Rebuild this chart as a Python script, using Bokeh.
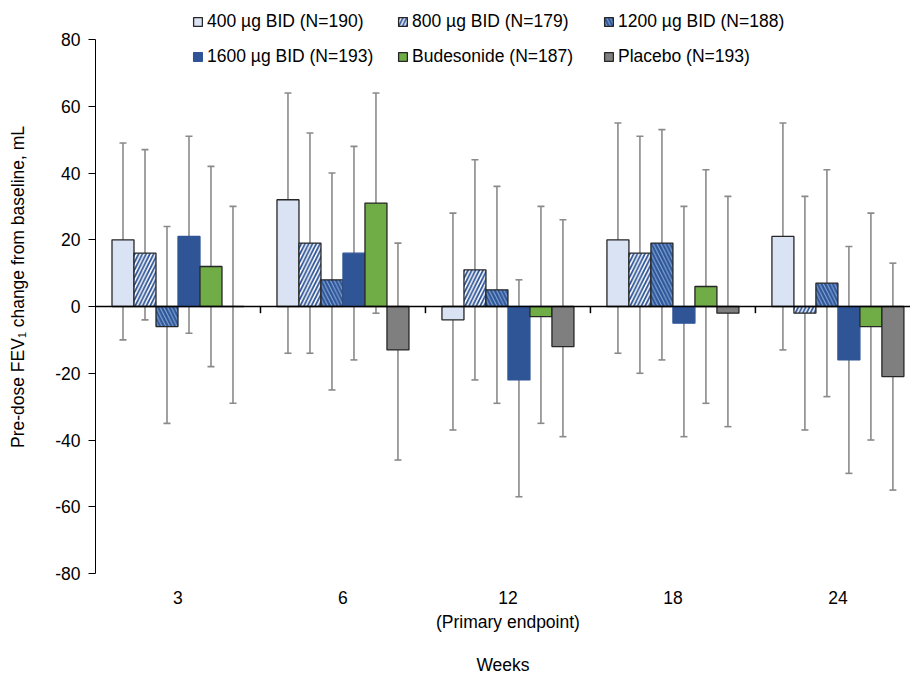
from bokeh.plotting import figure
from bokeh.models import (Range1d, FixedTicker, Span, Legend, LegendItem, Whisker,
                          ColumnDataSource, TeeHead)
from bokeh.embed import file_html
from bokeh.resources import INLINE

# ---------------- data ----------------
weeks = ["3", "6", "12\n(Primary endpoint)", "18", "24"]

series_names = ["400 µg BID (N=190)", "800 µg BID (N=179)", "1200 µg BID (N=188)",
                "1600 µg BID (N=193)", "Budesonide (N=187)", "Placebo (N=193)"]

mean_400 = [20, 32, -4, 20, 21]
lo_400 = [-10, -14, -37, -14, -13]
hi_400 = [49, 64, 28, 55, 55]

mean_800 = [16, 19, 11, 16, -2]
lo_800 = [-4, -14, -22, -20, -37]
hi_800 = [47, 52, 44, 51, 33]

mean_1200 = [-6, 8, 5, 19, 7]
lo_1200 = [-35, -25, -29, -16, -27]
hi_1200 = [24, 40, 36, 53, 41]

mean_1600 = [21, 16, -22, -5, -16]
lo_1600 = [-8, -16, -57, -39, -50]
hi_1600 = [51, 48, 8, 30, 18]

mean_bud = [12, 31, -3, 6, -6]
lo_bud = [-18, -2, -35, -29, -40]
hi_bud = [42, 64, 30, 41, 28]

mean_pbo = [0, -13, -12, -2, -21]
lo_pbo = [-29, -46, -39, -36, -55]
hi_pbo = [30, 19, 26, 33, 13]

y_ticks = [-80, -60, -40, -20, 0, 20, 40, 60, 80]

means = [mean_400, mean_800, mean_1200, mean_1600, mean_bud, mean_pbo]
lows = [lo_400, lo_800, lo_1200, lo_1600, lo_bud, lo_pbo]
highs = [hi_400, hi_800, hi_1200, hi_1600, hi_bud, hi_pbo]

# ---------------- styles ----------------
FONT = "Liberation Sans"
FS = "17.5px"
styles = [
    dict(fill_color="#dae3f3", line_color="#262626"),
    dict(fill_color="#ffffff", line_color="#262626", hatch_pattern="/",
         hatch_color="#2f5597", hatch_scale=7.5, hatch_weight=1.8),
    dict(fill_color="#2f5597", line_color="#262626", hatch_pattern="\\",
         hatch_color="#8fb3e0", hatch_scale=7.5, hatch_weight=1.0),
    dict(fill_color="#2f5597", line_color="#2f5597"),
    dict(fill_color="#70ad47", line_color="#262626"),
    dict(fill_color="#7f7f7f", line_color="#262626"),
]

n_groups = len(weeks)
n_series = len(series_names)
group_w = 0.8
bar_w = group_w / n_series

# frame extends above the top tick so the legend sits inside it
y_top = 91.7
x_end = 4.94

p = figure(width=910, height=677, output_backend="svg", toolbar_location=None,
           x_range=Range1d(0, x_end), y_range=Range1d(y_ticks[0], y_top),
           min_border_left=95, min_border_right=0, min_border_top=0,
           min_border_bottom=104)
p.outline_line_color = None
p.grid.visible = False

renderers = []
for i in range(n_series):
    xs = [g + 0.5 + (i - (n_series - 1) / 2) * bar_w for g in range(n_groups)]
    src = ColumnDataSource(dict(x=xs, top=means[i], lo=lows[i], hi=highs[i]))
    r = p.vbar(x="x", top="top", bottom=0, width=bar_w, source=src,
               line_width=1.3, **styles[i])
    renderers.append(r)
    w = Whisker(base="x", upper="hi", lower="lo", source=src, dimension="height",
                line_color="#8a8a8a", line_width=1.6,
                upper_head=TeeHead(size=7, line_color="#8a8a8a", line_width=1.6),
                lower_head=TeeHead(size=7, line_color="#8a8a8a", line_width=1.6))
    p.add_layout(w)

# zero line and category separators
p.add_layout(Span(location=0, dimension="width", line_color="black", line_width=1.5))
bounds = list(range(1, n_groups))
p.segment(x0=bounds, x1=bounds, y0=[0] * len(bounds), y1=[-2] * len(bounds),
          line_color="black", line_width=1.5)

# axes
p.yaxis.bounds = (y_ticks[0], y_ticks[-1])
p.yaxis.ticker = FixedTicker(ticks=y_ticks)
p.yaxis.major_label_overrides = {t: str(t) for t in y_ticks}
p.yaxis.major_tick_out = 7
p.yaxis.major_tick_in = 0
p.yaxis.minor_tick_line_color = None
p.yaxis.axis_line_color = "black"
p.yaxis.major_tick_line_color = "black"
p.yaxis.major_label_standoff = 8
p.yaxis.major_label_text_font = FONT
p.yaxis.major_label_text_font_size = FS
p.yaxis.major_label_text_color = "black"
p.yaxis.axis_label = "Pre-dose FEV\u2081 change from baseline, mL"
p.yaxis.axis_label_text_font = FONT
p.yaxis.axis_label_text_font_size = FS
p.yaxis.axis_label_text_font_style = "normal"
p.yaxis.axis_label_text_color = "black"
p.yaxis.axis_label_standoff = 24

p.xaxis.ticker = FixedTicker(ticks=[g + 0.5 for g in range(n_groups)])
p.xaxis.major_label_overrides = {g + 0.5: weeks[g] for g in range(n_groups)}
p.xaxis.axis_line_color = None
p.xaxis.major_tick_line_color = None
p.xaxis.minor_tick_line_color = None
p.xaxis.major_tick_out = 0
p.xaxis.major_tick_in = 0
p.xaxis.major_label_standoff = 14
p.xaxis.major_label_text_font = FONT
p.xaxis.major_label_text_font_size = FS
p.xaxis.major_label_text_color = "black"
p.xaxis.axis_label = "Weeks"
p.xaxis.axis_label_text_font = FONT
p.xaxis.axis_label_text_font_size = FS
p.xaxis.axis_label_text_font_style = "normal"
p.xaxis.axis_label_text_color = "black"
p.xaxis.axis_label_standoff = 20

# legends: three columns of two items
col_x = [97, 302, 508]
for c in range(3):
    items = [LegendItem(label=series_names[c], renderers=[renderers[c]]),
             LegendItem(label=series_names[c + 3], renderers=[renderers[c + 3]])]
    lg = Legend(items=items, location=(col_x[c], 506), orientation="vertical",
                glyph_width=11, glyph_height=11, label_standoff=4,
                label_height=20, spacing=14, padding=0, margin=0,
                border_line_color=None, background_fill_alpha=0,
                label_text_font=FONT, label_text_font_size=FS,
                label_text_color="black")
    p.add_layout(lg, "center")

open("out.html", "w").write(file_html(p, INLINE))
